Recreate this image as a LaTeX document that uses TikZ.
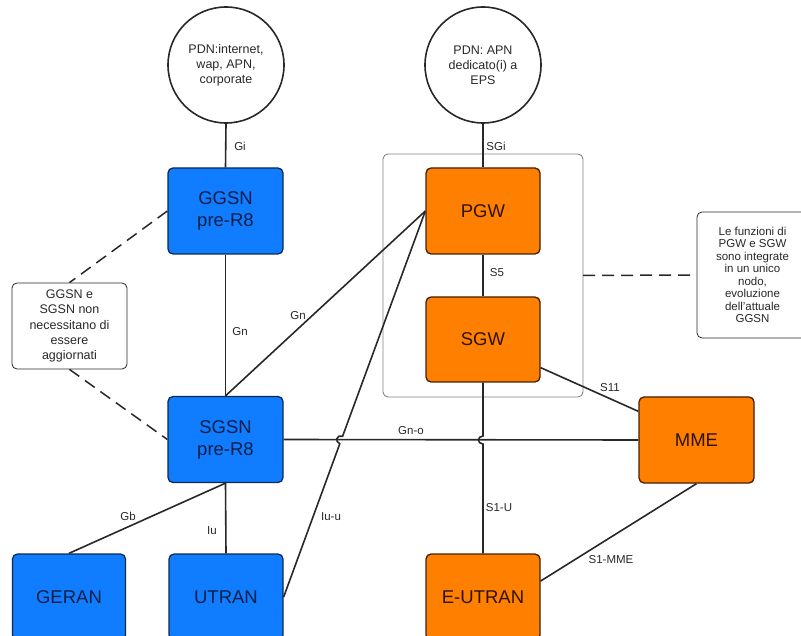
\documentclass[tikz,border=0pt]{standalone}
\usepackage{fontspec}
\setmainfont{Liberation Sans}
\usetikzlibrary{calc}
\definecolor{ink}{RGB}{40,40,40}
\definecolor{frame}{RGB}{130,130,130}
\definecolor{umtsblue}{RGB}{16,124,255}
\definecolor{umtsedge}{RGB}{14,42,82}
\definecolor{umtstext}{RGB}{10,30,70}
\definecolor{epsorange}{RGB}{255,128,0}
\definecolor{epsedge}{RGB}{70,30,5}
\definecolor{epstext}{RGB}{45,18,0}
\begin{document}
\begin{tikzpicture}[x=1pt,y=-1pt,
  box/.style={rounded corners=5pt, line width=1.3pt, minimum width=115pt,
    minimum height=86pt, inner sep=0pt, align=center,
    font=\fontsize{18.5}{22}\selectfont},
  legacy/.style={box, fill=umtsblue, draw=umtsedge, text=umtstext},
  eps/.style={box, fill=epsorange, draw=epsedge, text=epstext},
  pdn/.style={circle, draw=ink, line width=1.6pt, minimum size=116pt,
    inner sep=0pt, align=center, text=ink, font=\fontsize{12.5}{15}\selectfont},
  note/.style={draw=ink, line width=0.8pt, rounded corners=5pt, fill=white,
    align=center, inner sep=0pt, text=ink},
  link/.style={draw=ink, line width=1.6pt},
  remark/.style={draw=ink, line width=1.5pt, dash pattern=on 12pt off 7pt},
  iface/.style={font=\fontsize{11.5}{13}\selectfont, text=ink, inner sep=0pt}]
\useasboundingbox (0,0) rectangle (801,636);
\clip (0,0) rectangle (801,636);

% EPS gateway container
\draw[frame, line width=0.9pt, rounded corners=5pt] (383,154) rectangle (583,397);
\coordinate (gwframe) at (583,275.5);

% packet data networks
\node[pdn] (pdn1) at (226,65) {PDN:internet,\\wap, APN,\\corporate};
\node[pdn] (pdn2) at (483,65) {PDN: APN\\dedicato(i) a\\EPS};

% core and access nodes
\node[legacy] (ggsn) at (225.5,211) {GGSN\\pre-R8};
\node[legacy] (sgsn) at (225.5,439.5) {SGSN\\pre-R8};
\node[legacy, minimum width=113pt] (geran) at (69,597) {GERAN};
\node[legacy, minimum width=114pt] (utran) at (226,597) {UTRAN};
\node[eps, minimum width=114pt] (pgw) at (483,211) {PGW};
\node[eps, minimum width=114pt, minimum height=85pt] (sgw) at (483,339.5) {SGW};
\node[eps] (mme) at (696.5,440) {MME};
\node[eps, minimum width=114pt] (eutran) at (483,597) {E-UTRAN};

% remarks
\node[note, minimum width=115pt, minimum height=86pt,
  font=\fontsize{12.5}{15.3}\selectfont] (noteleft) at (69.5,326)
  {GGSN e\\SGSN non\\necessitano di\\essere\\aggiornati};
\node[note, minimum width=111pt, minimum height=126pt,
  font=\fontsize{11.5}{12.5}\selectfont] (noteright) at (752.5,275)
  {Le funzioni di\\PGW e SGW\\sono integrate\\in un unico\\nodo,\\evoluzione\\dell'attuale\\GGSN};

\draw[remark] (ggsn.west) -- (noteleft.north);
\draw[remark] (noteleft.south) -- (sgsn.west);
\draw[remark] (gwframe) -- (noteright.west);

% interfaces
\draw[link] (pdn1.south) -- (ggsn.north);
\draw[link] (pdn2.south) -- (pgw.north);
\draw[link] (ggsn.south) -- (sgsn.north);
\draw[link] (sgsn.north) -- (pgw.west);
\draw[link] (pgw.south) -- (sgw.north);
\draw[link] (sgsn.east) -- (mme.west);
\draw[link] (sgsn.south) -- (geran.north);
\draw[link] (sgsn.south) -- (utran.north);
\draw[link] ([yshift=15pt]sgw.south east) -- ([yshift=-15pt]mme.north west);
\draw[link] (mme.south) -- ([yshift=16pt]eutran.east);

% lines hopping over Gn-o
\coordinate (hopa) at (339.8,443.75);
\coordinate (hopb) at (342.6,436.25);
\draw[link] (utran.east) -- (hopa)
  .. controls (334.2,441.7) and (337.0,434.2) .. (hopb) -- (pgw.west);
\coordinate (hopc) at (483,436);
\coordinate (hopd) at (483,444);
\draw[link] (sgw.south) -- (hopc)
  .. controls (477,436) and (477,444) .. (hopd) -- (eutran.north);

% interface labels
\node[iface] (lgi) at (240,146) {Gi};
\node[iface] (lsgi) at (496,146) {SGi};
\node[iface] (lgn) at (240,332) {Gn};
\node[iface] (lgn2) at (298,316) {Gn};
\node[iface] (ls5) at (497,273) {S5};
\node[iface] (lgno) at (411,431) {Gn-o};
\node[iface] (ls11) at (610,388) {S11};
\node[iface] (ls1u) at (499,508) {S1-U};
\node[iface] (ls1mme) at (611,560) {S1-MME};
\node[iface] (lgb) at (128,516) {Gb};
\node[iface] (liu) at (212,531) {Iu};
\node[iface] (liuu) at (331,517) {Iu-u};
\end{tikzpicture}
\end{document}
